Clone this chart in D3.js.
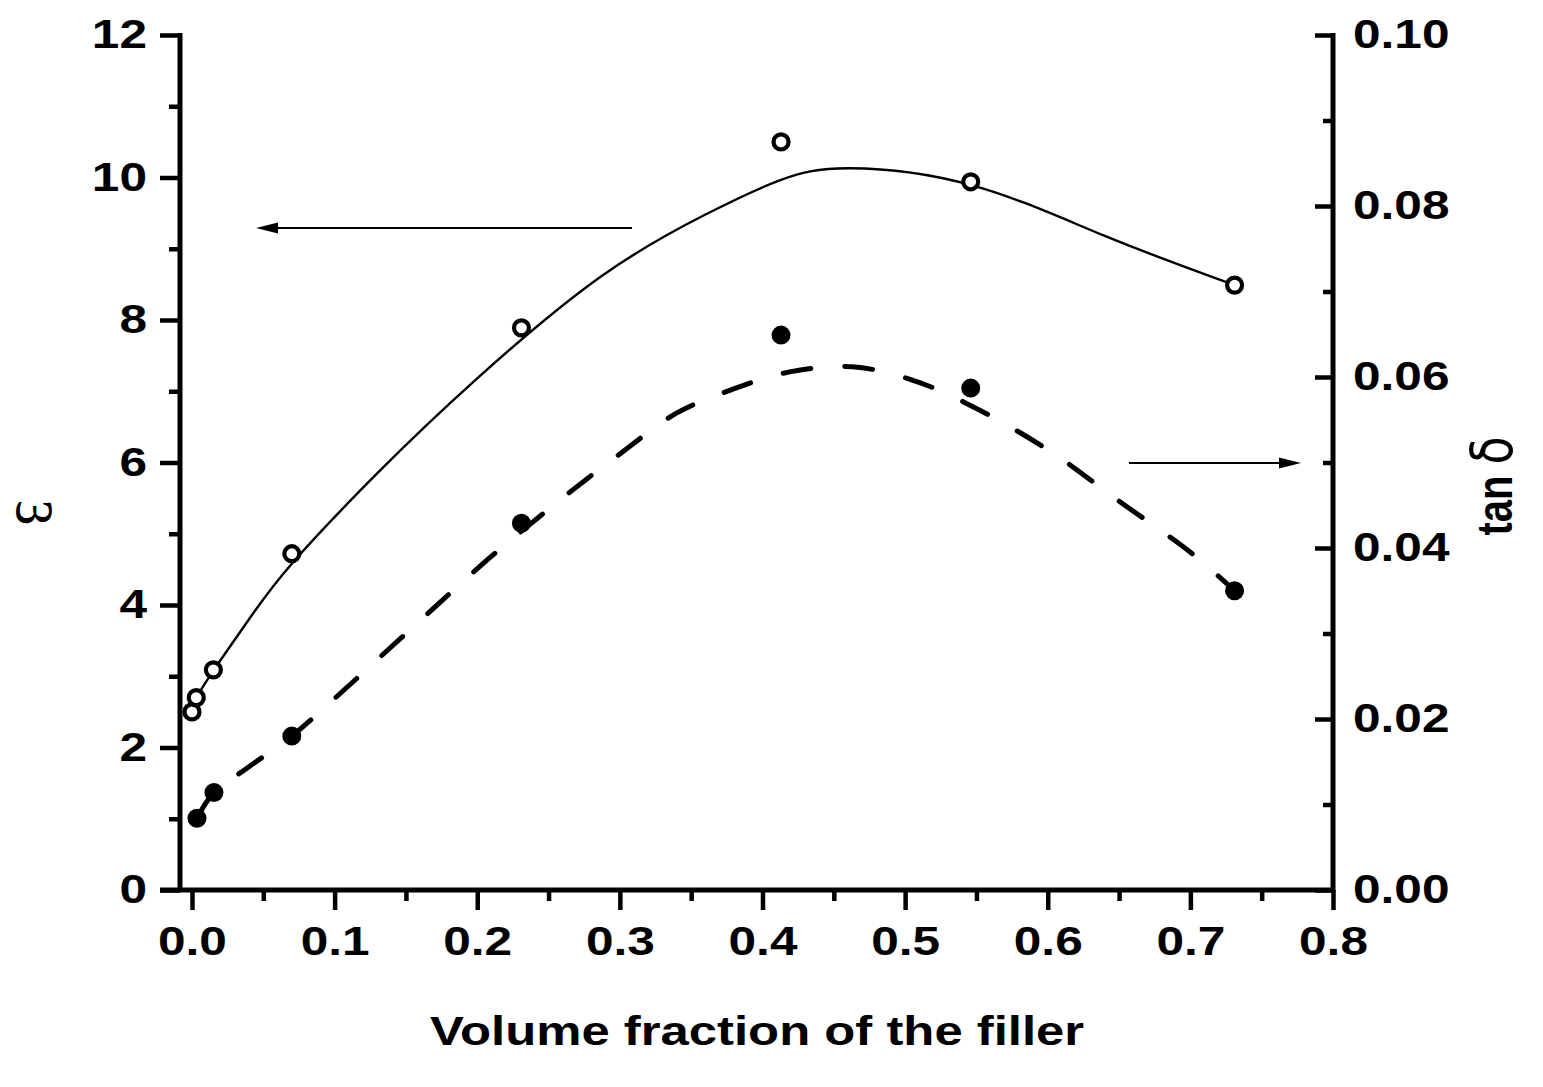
<!DOCTYPE html>
<html><head><meta charset="utf-8">
<script src="https://cdn.jsdelivr.net/npm/d3@7"></script>
<style>body{margin:0;background:#fff} svg{display:block}</style>
</head><body>
<svg id="c" width="1543" height="1087"></svg>
<script>
// measured points: dielectric constant (open circles)
const xEps = [0.0, 0.003, 0.015, 0.070, 0.231, 0.413, 0.546, 0.731];
const epsVals = [2.50, 2.70, 3.09, 4.72, 7.89, 10.50, 9.94, 8.49];
// measured points: tan delta (filled circles)
const xTan = [0.0035, 0.0154, 0.070, 0.231, 0.413, 0.546, 0.731];
const tanVals = [0.0084, 0.0114, 0.0180, 0.0429, 0.0649, 0.0587, 0.0350];
// smooth fitted curve for epsilon
const epsFitX = [0.003, 0.015, 0.040, 0.070, 0.130, 0.200, 0.286, 0.360, 0.412, 0.461, 0.547, 0.640, 0.731];
const epsFitY = [2.70, 3.08, 3.80, 4.58, 5.85, 7.18, 8.60, 9.48, 9.96, 10.13, 9.89, 9.18, 8.49];
// dashed fitted curve for tan delta
const tanFitX = [0.0035, 0.0154, 0.039, 0.070, 0.100, 0.150, 0.209, 0.235, 0.267, 0.300, 0.340, 0.378, 0.419, 0.463, 0.504, 0.542, 0.600, 0.649, 0.700, 0.731];
const tanFitY = [0.0084, 0.0114, 0.0143, 0.0180, 0.0224, 0.0300, 0.0389, 0.0425, 0.0468, 0.0510, 0.0558, 0.0585, 0.0606, 0.0612, 0.0597, 0.0570, 0.0515, 0.0456, 0.0395, 0.0350];
// ticks
const xMajor = [0, 0.1, 0.2, 0.3, 0.4, 0.5, 0.6, 0.7, 0.8];
const xMinor = [0.05, 0.15, 0.25, 0.35, 0.45, 0.55, 0.65, 0.75];
const yLeftMajor = [0, 2, 4, 6, 8, 10, 12];
const yLeftMinor = [1, 3, 5, 7, 9, 11];
const yRightMajor = [0, 0.02, 0.04, 0.06, 0.08, 0.10];
const yRightMinor = [0.01, 0.03, 0.05, 0.07, 0.09];
const xTitle = "Volume fraction of the filler";
const yLeftTitle = "ε";
const yRightTitle = "tan ";
const yRightSym = "δ";

const SX = 1.24; // horizontal stretch of the lettering
const svg = d3.select("#c");
const x = d3.scaleLinear().domain([-0.0084, 0.8]).range([180, 1333]);
const yL = d3.scaleLinear().domain([0, 12]).range([890, 35]);
const yR = d3.scaleLinear().domain([0, 0.1]).range([890, 35]);
const font = "'Liberation Sans', Arial, sans-serif";

function styleAxis(g) {
  g.select(".domain").remove();
  g.selectAll(".tick line").attr("stroke", "#000").attr("stroke-width", 4.5);
  g.selectAll(".tick text").attr("fill", "#000").attr("font-family", font)
    .attr("font-weight", "bold").attr("font-size", 40)
    .each(function() {
      const t = d3.select(this);
      const tx = +t.attr("x") || 0, ty = +t.attr("y") || 0;
      t.attr("x", 0).attr("y", 0).attr("transform", `translate(${tx},${ty}) scale(${SX},1)`);
    });
}
// bottom axis
svg.append("g").attr("transform", "translate(0,890)")
  .call(d3.axisBottom(x).tickValues(xMajor).tickSize(20).tickPadding(15).tickFormat(d3.format(".1f")))
  .call(g => g.selectAll("text").attr("dy", "0.75em"))
  .call(styleAxis);
svg.append("g").attr("transform", "translate(0,890)")
  .call(d3.axisBottom(x).tickValues(xMinor).tickSize(11).tickFormat(""))
  .call(styleAxis);
// left axis
svg.append("g").attr("transform", "translate(180,0)")
  .call(d3.axisLeft(yL).tickValues(yLeftMajor).tickSize(20).tickPadding(13).tickFormat(d3.format("d")))
  .call(styleAxis);
svg.append("g").attr("transform", "translate(180,0)")
  .call(d3.axisLeft(yL).tickValues(yLeftMinor).tickSize(11).tickFormat(""))
  .call(styleAxis);
// right axis (ticks inward)
svg.append("g").attr("transform", "translate(1333,0)")
  .call(d3.axisRight(yR).tickValues(yRightMajor).tickSize(-18).tickPadding(20).tickFormat(d3.format(".2f")))
  .call(styleAxis);
svg.append("g").attr("transform", "translate(1333,0)")
  .call(d3.axisRight(yR).tickValues(yRightMinor).tickSize(-10).tickFormat(""))
  .call(styleAxis);
// axis lines
svg.append("line").attr("x1", 180).attr("x2", 180).attr("y1", yL(12) - 2).attr("y2", 892)
  .attr("stroke", "#000").attr("stroke-width", 5);
svg.append("line").attr("x1", 1333).attr("x2", 1333).attr("y1", yR(0.1) - 2).attr("y2", 892)
  .attr("stroke", "#000").attr("stroke-width", 5);
svg.append("line").attr("x1", 160).attr("x2", 1335).attr("y1", 890).attr("y2", 890)
  .attr("stroke", "#000").attr("stroke-width", 5);

// curves
const epsLine = d3.line().x(d => x(d[0])).y(d => yL(d[1])).curve(d3.curveNatural);
svg.append("path").datum(d3.zip(epsFitX, epsFitY)).attr("d", epsLine)
  .attr("fill", "none").attr("stroke", "#000").attr("stroke-width", 2.4);
const tanLine = d3.line().x(d => x(d[0])).y(d => yR(d[1])).curve(d3.curveCatmullRom.alpha(0.5));
svg.append("path").datum(d3.zip(tanFitX, tanFitY)).attr("d", tanLine)
  .attr("fill", "none").attr("stroke", "#000").attr("stroke-width", 5)
  .attr("stroke-dasharray", "28,34").attr("stroke-linecap", "round");

// markers
svg.append("g").selectAll("circle").data(d3.zip(xEps, epsVals)).join("circle")
  .attr("cx", d => x(d[0])).attr("cy", d => yL(d[1])).attr("r", 7.5)
  .attr("fill", "#fff").attr("stroke", "#000").attr("stroke-width", 4.2);
svg.append("g").selectAll("circle").data(d3.zip(xTan, tanVals)).join("circle")
  .attr("cx", d => x(d[0])).attr("cy", d => yR(d[1])).attr("r", 9.5)
  .attr("fill", "#000");

// arrows
function arrow(x1, x2, y, dir) {
  svg.append("line").attr("x1", x1).attr("x2", x2 - dir * 10).attr("y1", y).attr("y2", y)
    .attr("stroke", "#000").attr("stroke-width", 2.2);
  svg.append("path").attr("d", `M${x2},${y} L${x2 - dir * 22},${y - 5.5} L${x2 - dir * 22},${y + 5.5} Z`)
    .attr("fill", "#000");
}
arrow(632, 256, 228, -1);
arrow(1129, 1301, 463, 1);

// titles
svg.append("text").attr("transform", `translate(757,1045) scale(${SX},1)`).attr("text-anchor", "middle")
  .attr("font-family", font).attr("font-weight", "bold").attr("font-size", 41).text(xTitle);
// epsilon: baseline kept on the left so the glyph box stays inside the page
svg.append("text").attr("transform", `translate(17,513) scale(${SX},1) rotate(-90) scale(1,-1)`).attr("text-anchor", "middle")
  .attr("font-family", "'Liberation Serif', 'DejaVu Serif', serif").attr("font-size", 60).text(yLeftTitle);
const rt = svg.append("text").attr("transform", `translate(1512,486) scale(${SX},1) rotate(-90)`).attr("text-anchor", "middle")
  .attr("font-family", font).attr("font-weight", "bold").attr("font-size", 40);
rt.append("tspan").text(yRightTitle);
rt.append("tspan").attr("font-weight", "normal").attr("font-family", "'DejaVu Sans', sans-serif")
  .attr("font-size", 46).text(yRightSym);
</script>
</body></html>
